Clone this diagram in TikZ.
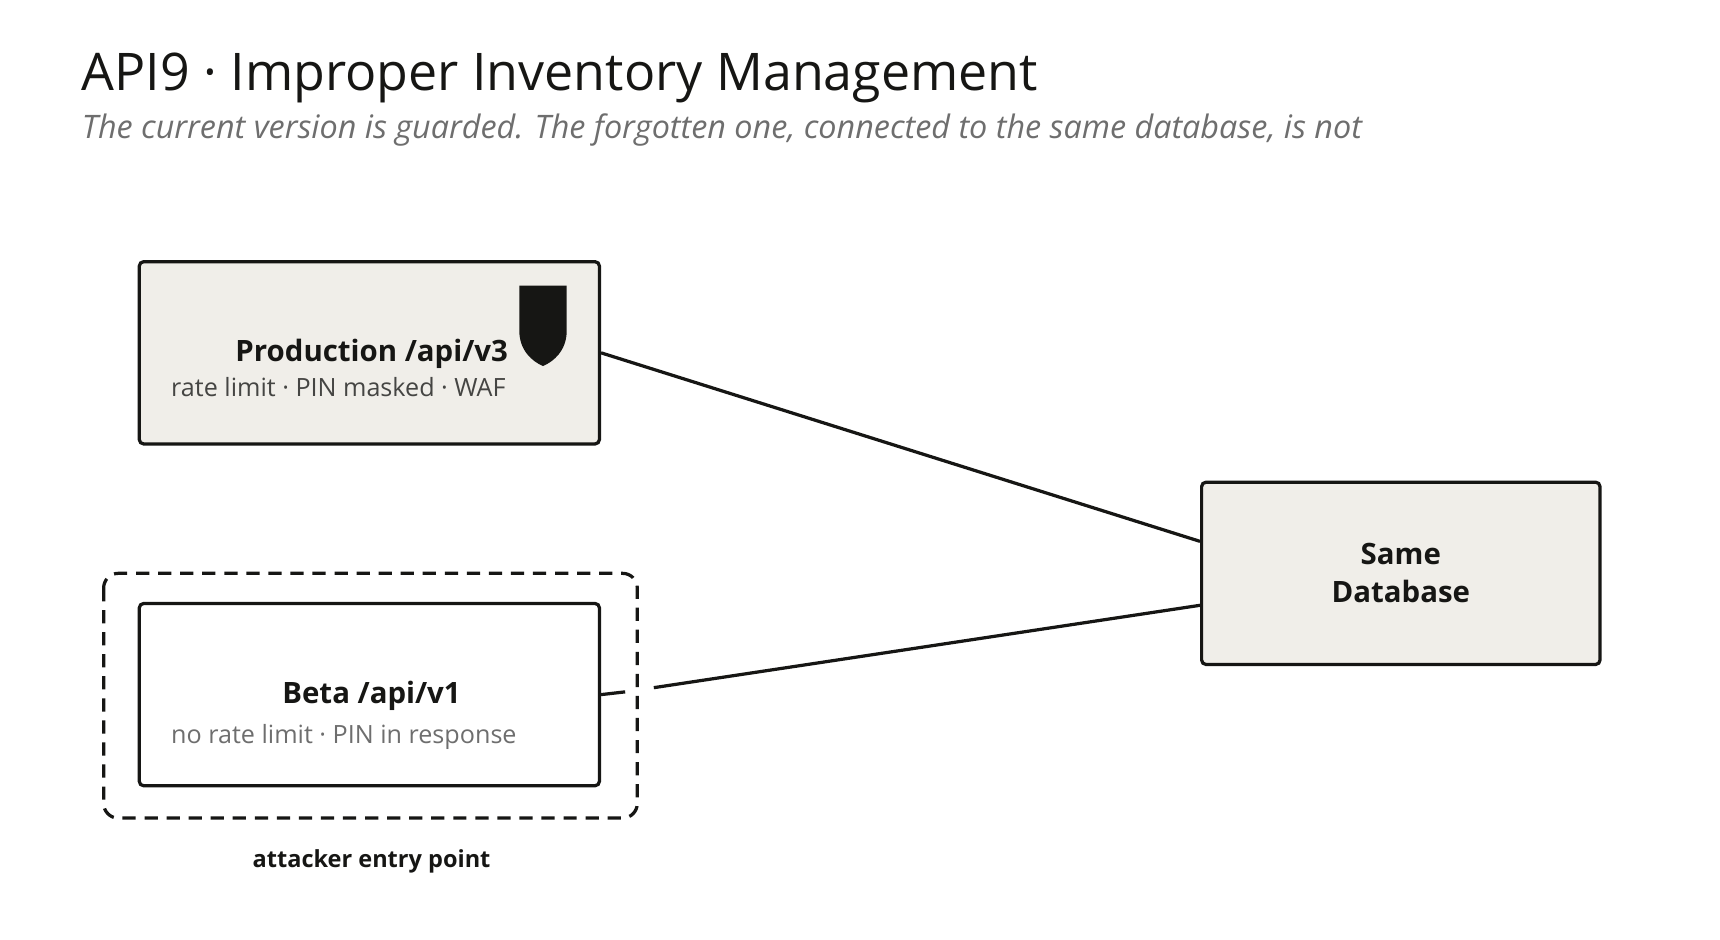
\documentclass[tikz,border=0pt]{standalone}
\usepackage{fontspec}
\setmainfont{Open Sans}
\usetikzlibrary{positioning}
\definecolor{boxfill}{RGB}{240,238,233}
\definecolor{ink}{RGB}{22,22,20}
\definecolor{subgray}{RGB}{110,110,110}
\begin{document}
\begin{tikzpicture}[x=0.75pt,y=0.75pt,yscale=-1,
  box/.style={draw=ink,line width=2.2pt,rounded corners=3pt,minimum width=313pt,minimum height=124pt},
  link/.style={draw=ink,line width=2.2pt},
  head/.style={font=\fontsize{20}{22}\selectfont\bfseries,text=ink},
  note/.style={font=\fontsize{17.1}{18}\selectfont,text=subgray}]
\useasboundingbox (0,0) rectangle (1560,852);

% title
\node[anchor=base west,inner sep=0,text=ink,font=\fontsize{35.3}{40}\selectfont] (title) at (74,82) {API9 · Improper Inventory Management};
\node[anchor=base west,inner sep=0,text=subgray,font=\fontsize{22}{24}\selectfont\itshape] (sub) at (74,126) {The current version is guarded. The forgotten one, connected to the same database, is not};

% boxes
\node[box,fill=boxfill] (prod) at (335,320) {};
\node[box,fill=white] (beta) at (335,630) {};
\node[box,fill=boxfill,minimum width=271pt] (db) at (1270.5,520) {};
\draw[ink,line width=2.2pt,dash pattern=on 9pt off 6pt,rounded corners=10pt] (94,520) rectangle (578,742);

% texts
\node[head,anchor=base east,inner sep=0] (prodT) at (461,328) {Production /api/v3};
\node[note,anchor=base west,inner sep=0,text=ink!80] (prodN) at (155,360) {rate limit · PIN masked · WAF};
\node[head,anchor=base,inner sep=0] (betaT) at (337,638) {Beta /api/v1};
\node[note,anchor=base west,inner sep=0] (betaN) at (155,674) {no rate limit · PIN in response};
\node[head,align=center,font=\fontsize{20}{26}\selectfont\bfseries] (dbT) at (db.center) {Same\\Database};
\node[anchor=base,inner sep=0,text=ink,font=\fontsize{16}{18}\selectfont\bfseries] (entry) at (337,787) {attacker entry point};

% shield
\fill[ink] (471,259) -- (514,259) -- (514,300) .. controls (514,318) and (502,328) .. (492.5,332) .. controls (483,328) and (471,318) .. (471,300) -- cycle;

% connectors
\coordinate (dbA) at ([yshift=-29*0.75pt]db.west);
\coordinate (dbB) at ([yshift=29*0.75pt]db.west);
\coordinate (gapL) at (567,627.5);
\coordinate (gapR) at (593,623.7);
\draw[link] (prod.east) -- (dbA);
\draw[link] (beta.east) -- (gapL);
\draw[link] (gapR) -- (dbB);
\end{tikzpicture}
\end{document}
